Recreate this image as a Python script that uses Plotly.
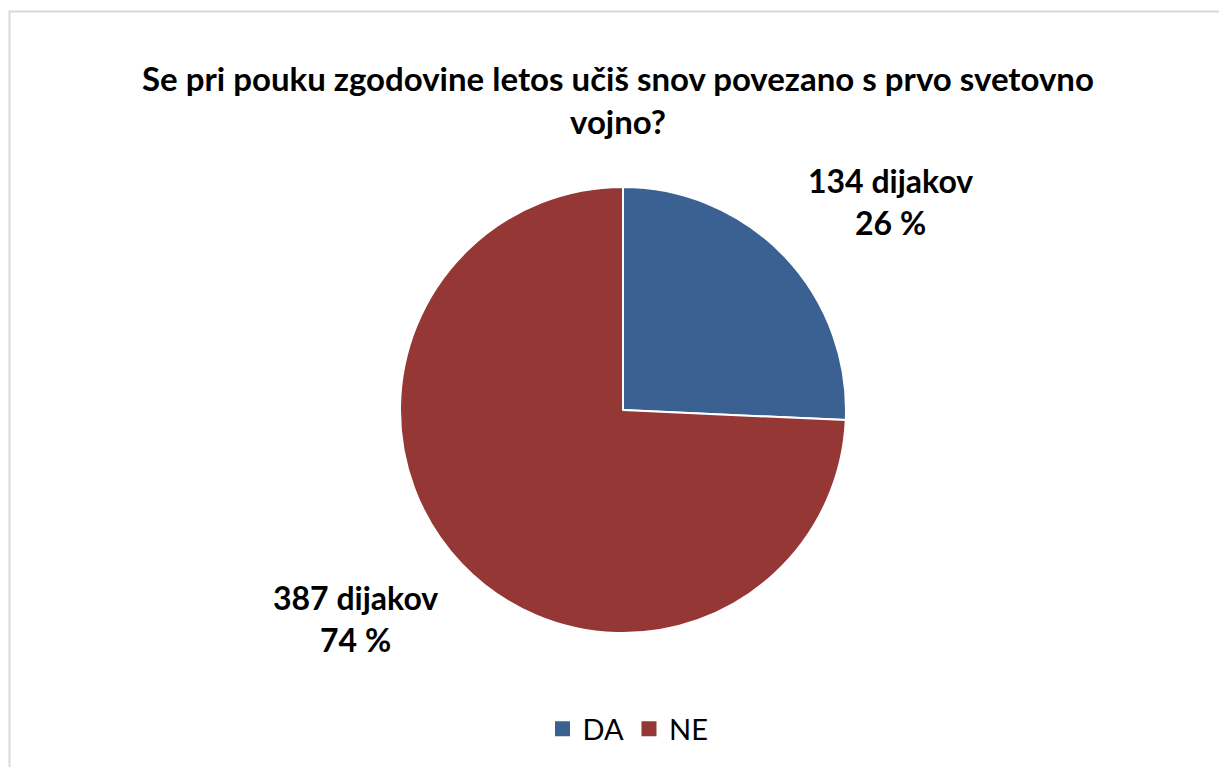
import math
import plotly.graph_objects as go

# data
categories = ["DA", "NE"]
students = [134, 387]
colors = ["#3A6192", "#953735"]
title_text = "Se pri pouku zgodovine letos učiš snov povezano s prvo svetovno<br>vojno?"

# page has an 8px body margin, so the figure is a bit smaller and all
# screen positions below are shifted by OFF
OFF = 8
W, H = 1227 - OFF, 767 - OFF
FONT = "Lato, Carlito, Calibri, sans-serif"

total = sum(students)
labels_txt = [f"{v} dijakov<br>{round(v / total * 100)} %" for v in students]


def px(x):
    return (x - OFF) / W


def py(y):
    return (H - (y - OFF)) / H


# pie geometry (screen px)
cx, cy, r = 623, 410, 223

fig = go.Figure(
    go.Pie(
        labels=categories,
        values=students,
        sort=False,
        direction="clockwise",
        rotation=0,
        marker=dict(colors=colors, line=dict(color="white", width=2)),
        textinfo="none",
        hoverinfo="label+value+percent",
        showlegend=False,
        domain=dict(x=[px(cx - r), px(cx + r)], y=[py(cy + r), py(cy - r)]),
    )
)

# legend entries with bigger square swatches
for name, col in zip(categories, colors):
    fig.add_trace(
        go.Scatter(
            x=[None], y=[None], mode="markers", name=name,
            marker=dict(symbol="square", size=15, color=col),
        )
    )

# data labels outside the slices, placed along each slice's mid angle
cum = 0
for v, txt in zip(students, labels_txt):
    mid = (cum + v / 2) / total * 2 * math.pi
    cum += v
    lx = cx + 1.66 * r * math.sin(mid)
    ly = cy - 1.35 * r * math.cos(mid)
    fig.add_annotation(
        x=px(lx), y=py(ly), xref="paper", yref="paper",
        text=f"<b>{txt}</b>", showarrow=False,
        font=dict(family=FONT, size=32, color="#000000"),
        xanchor="center", yanchor="middle", align="center",
    )

# chart area border
fig.add_shape(
    type="rect", xref="paper", yref="paper",
    x0=px(9.5), x1=1.01, y0=-0.01, y1=py(11.5),
    line=dict(color="#D9D9D9", width=2), fillcolor="rgba(0,0,0,0)", layer="below",
)

fig.update_layout(
    width=W, height=H,
    paper_bgcolor="white", plot_bgcolor="white",
    margin=dict(l=0, r=0, t=0, b=0),
    xaxis=dict(visible=False),
    yaxis=dict(visible=False),
    title=dict(
        text=f"<b>{title_text}</b>", x=px(618), xanchor="center",
        y=py(91), yanchor="middle",
        font=dict(family=FONT, size=33, color="#000000"),
    ),
    showlegend=True,
    legend=dict(
        orientation="h", x=px(628), xanchor="center", y=py(729), yanchor="middle",
        font=dict(family=FONT, size=29, color="#000000"),
        itemsizing="trace", itemwidth=30,
    ),
)

fig.write_html("out.html")
